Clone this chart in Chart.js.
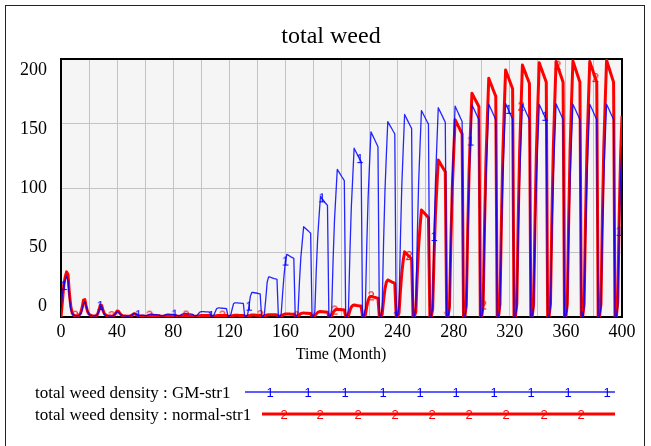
<!DOCTYPE html>
<html>
<head>
<meta charset="utf-8">
<script src="https://cdn.jsdelivr.net/npm/chart.js@4/dist/chart.umd.min.js"></script>
<style>
  html, body { margin: 0; padding: 0; background: #fff; }
  #wrap { position: relative; width: 651px; height: 446px; overflow: hidden; }
  #c { position: absolute; left: 0; top: 0; }
  .frame { position: absolute; left: 5px; top: 5px; width: 640px; height: 460px;
           border: 1px solid #222; box-sizing: border-box; pointer-events: none; }
  .txt { position: absolute; font-family: "Liberation Serif", "Times New Roman", serif; color: #000; white-space: nowrap; }
  #title { left: 0; width: 662px; text-align: center; top: 20px; line-height: 30px; font-size: 24px; }
  #xtitle { left: 0; width: 682px; text-align: center; top: 344px; line-height: 20px; font-size: 16px; }
  #legend { position: absolute; left: 0; top: 0; }
</style>
</head>
<body>
<div id="wrap">
  <canvas id="c" width="651" height="446"></canvas>
  <div class="frame"></div>
  <div id="title" class="txt">total weed</div>
  <div id="xtitle" class="txt">Time (Month)</div>
  <svg id="legend" width="651" height="446"></svg>
</div>
<script>
// ---------------- data ----------------
const chartTitle = "total weed";
const xAxisTitle = "Time (Month)";
const seriesNames = ["total weed density : GM-str1", "total weed density : normal-str1"];
const xTickValues = [0, 40, 80, 120, 160, 200, 240, 280, 320, 360, 400];
const yTickValues = [0, 50, 100, 150, 200];

// time axis: months 0..400
const months = Array.from({length: 401}, (_, i) => i);

// series 1 : GM-str1 (blue), one row per year (12 months)
const gmStr1 = [
  6, 18, 24, 29, 31.5, 28, 15, 6, 2.5, 1.5, 1, 0.8,               // 0-11
  0.8, 1.2, 2.5, 5, 10, 12, 8.5, 4.5, 2, 1.3, 1, 0.8,             // 12-23
  0.7, 1, 2, 4.5, 8.5, 8.3, 4.5, 2, 1.3, 1, 0.8, 0.7,             // 24-35
  0.6, 0.8, 1.5, 2.8, 4.2, 4, 2.6, 1.5, 1, 0.8, 0.7, 0.6,         // 36-47
  0.6, 0.8, 1.2, 2, 2.8, 2.6, 1.8, 1.4, 1.2, 1.2, 1.5, 1.4,       // 48-59
  0.9, 1, 1.5, 2, 2.2, 2.2, 2, 1.8, 1.8, 1.6, 1.5, 1,             // 60-71
  0.9, 1, 1.5, 2, 2.2, 2.2, 2.1, 2, 2, 1.8, 1.6, 1,               // 72-83
  0.9, 1.2, 2, 2.5, 2.8, 2.8, 2.6, 2.5, 2.4, 2.2, 2, 1,           // 84-95
  0.8, 1.2, 2.5, 3.8, 4.2, 4.2, 4.1, 4, 4, 3.9, 3.8, 0.8,         // 96-107
  0.7, 1.5, 4, 6.5, 7, 7, 6.9, 6.8, 6.7, 6.6, 6.5, 0.7,           // 108-119
  0.6, 1.5, 6, 10.2, 11, 11, 10.9, 10.8, 10.7, 10.6, 10.5, 0.6,   // 120-131
  0.5, 1.5, 8, 16, 19, 19, 18.8, 18.6, 18.4, 18.2, 18, 0.5,       // 132-143
  0.5, 2, 14, 27, 31, 31, 30.6, 30.2, 29.8, 29.5, 29.2, 0.5,      // 144-155
  0.5, 2.5, 18, 32, 43, 48.6, 48, 47.3, 46.6, 46, 45.5, 0.5,      // 156-167
  0.5, 3.5, 27, 46, 58, 70, 69, 68, 67, 66, 65, 0.5,              // 168-179
  0.5, 4.5, 36, 61, 78, 93.5, 92, 90.5, 89, 87.8, 86.5, 0.5,      // 180-191
  0.5, 5.5, 44, 75, 95, 114.5, 112.7, 110.9, 109.1, 107.4, 105.7, 0.5, // 192-203
  0.5, 6.5, 50, 85, 108, 130.8, 128.7, 126.6, 124.5, 122.4, 120.4, 0.5, // 204-215
  0.5, 7, 55, 93, 119, 143.5, 141.2, 138.9, 136.6, 134.3, 132, 0.5,     // 216-227
  0.5, 7.5, 58, 98, 126, 151.4, 149.5, 147.6, 145.7, 143.8, 142, 0.5,   // 228-239
  0.5, 8, 60, 102, 130, 157, 154.8, 152.6, 150.4, 148.2, 146, 0.5,      // 240-251
  0.5, 8, 61, 104, 133, 160, 157.9, 155.8, 153.7, 151.6, 149.5, 0.5,    // 252-263
  0.5, 8, 62, 105, 134, 162.2, 160, 157.7, 155.5, 153.2, 151, 0.5,      // 264-275
  0.5, 8, 62, 106, 135, 163.5, 161.1, 158.7, 156.3, 153.9, 151.5, 0.5,  // 276-287
  0.5, 8, 63, 107, 136, 164.5, 162.2, 159.9, 157.6, 155.3, 153, 0.5,    // 288-299
  0.5, 8, 63, 107, 137, 165, 162.6, 160.2, 157.8, 155.4, 153, 0.5,      // 300-311
  0.5, 8, 63, 108, 137, 165.5, 163, 160.6, 158.2, 155.8, 153.4, 0.5,    // 312-323
  0.5, 8, 63, 107, 137, 165, 162.6, 160.2, 157.8, 155.4, 153, 0.5,      // 324-335
  0.5, 8, 63, 107, 136, 164.8, 162.4, 160, 157.6, 155.2, 152.8, 0.5,    // 336-347
  0.5, 8, 64, 108, 137, 165.2, 162.8, 160.4, 158, 155.6, 153.2, 0.5,    // 348-359
  0.5, 8, 63, 107, 137, 165, 162.6, 160.2, 157.8, 155.4, 153, 0.5,      // 360-371
  0.5, 8, 63, 107, 137, 165, 162.6, 160.2, 157.8, 155.4, 153, 0.5,      // 372-383
  0.5, 8, 63, 107, 137, 165, 162.6, 160.2, 157.8, 155.4, 153, 0.5,      // 384-395
  0.5, 9, 66, 110, 132                                                  // 396-400
];

// series 2 : normal-str1 (red)
const normalStr1 = [
  0, 12, 25, 31, 35, 33, 18, 8, 3, 1.5, 1, 0.8,                   // 0-11
  0.8, 1.5, 3, 7, 13, 13.5, 8, 4, 2.2, 1.4, 1, 0.8,               // 12-23
  0.7, 1, 2, 5, 9.2, 9, 5, 2.4, 1.4, 1, 0.8, 0.7,                 // 24-35
  0.6, 0.8, 1.5, 3, 4.6, 4.4, 2.8, 1.5, 1, 0.8, 0.7, 0.6,         // 36-47
  0.6, 0.7, 1, 1.8, 2.5, 2.4, 1.6, 1, 0.8, 0.7, 0.6, 0.6,         // 48-59
  0.5, 0.6, 0.8, 1, 1.1, 1.1, 1.1, 1, 1, 1, 1, 0.5,               // 60-71
  0.5, 0.6, 0.8, 1, 1.1, 1.1, 1.1, 1, 1, 1, 1, 0.5,               // 72-83
  0.5, 0.6, 0.8, 1, 1.1, 1.1, 1.1, 1, 1, 1, 1, 0.5,               // 84-95
  0.5, 0.6, 0.8, 1, 1.2, 1.2, 1.2, 1.1, 1.1, 1.1, 1.1, 0.5,       // 96-107
  0.5, 0.6, 0.8, 1, 1.2, 1.2, 1.2, 1.1, 1.1, 1.1, 1.1, 0.5,       // 108-119
  0.5, 0.6, 0.9, 1.2, 1.3, 1.3, 1.3, 1.2, 1.2, 1.2, 1.2, 0.5,     // 120-131
  0.5, 0.6, 1, 1.3, 1.5, 1.5, 1.5, 1.4, 1.4, 1.4, 1.4, 0.5,       // 132-143
  0.5, 0.7, 1.2, 1.6, 1.8, 1.8, 1.8, 1.7, 1.7, 1.7, 1.6, 0.5,     // 144-155
  0.5, 0.8, 1.5, 2, 2.3, 2.4, 2.3, 2.3, 2.2, 2.2, 2.1, 0.5,       // 156-167
  0.5, 0.8, 1.8, 2.6, 3, 3.1, 3, 3, 2.9, 2.8, 2.7, 0.5,           // 168-179
  0.5, 1, 2.5, 3.5, 4, 4.2, 4.1, 4, 3.9, 3.8, 3.7, 0.5,           // 180-191
  0.5, 1, 3.5, 5, 5.8, 6, 5.9, 5.8, 5.7, 5.6, 5.5, 0.5,           // 192-203
  0.5, 1.2, 5, 7.8, 9, 9.3, 9.1, 8.9, 8.8, 8.6, 8.5, 0.5,         // 204-215
  0.5, 1.5, 8, 13, 15.5, 16, 15.7, 15.4, 15.1, 14.8, 14.5, 0.5,   // 216-227
  0.5, 2, 13, 22, 27, 28.7, 28.2, 27.7, 27.1, 26.6, 26, 0.5,      // 228-239
  0.5, 3, 20, 34, 44, 50.5, 49.4, 48.3, 47.2, 46.1, 45, 0.5,      // 240-251
  0.5, 4, 32, 55, 70, 83, 81.8, 80.6, 79.4, 78.2, 77, 0.5,        // 252-263
  0.5, 6, 47, 80, 101, 121.7, 119.9, 118, 116.2, 114.4, 112.6, 0.5,   // 264-275
  0.5, 8, 59, 100, 127, 153, 150.8, 148.6, 146.4, 144.2, 142, 0.5,    // 276-287
  0.5, 9, 67, 114, 145, 173.4, 171.3, 169.3, 167.2, 165.1, 163, 0.5,  // 288-299
  0.5, 9, 71, 121, 154, 185, 182.2, 179.4, 176.6, 173.8, 171, 0.5,    // 300-311
  0.5, 10, 73, 125, 160, 191.5, 188.6, 185.7, 182.8, 179.9, 177, 0.5, // 312-323
  0.5, 10, 75, 128, 163, 195.3, 192.4, 189.6, 186.7, 183.9, 181, 0.5, // 324-335
  0.5, 10, 76, 130, 165, 197, 194, 191, 188, 185, 182, 0.5,           // 336-347
  0.5, 10, 76, 130, 165, 198, 194.8, 191.6, 188.4, 185.2, 182, 0.5,   // 348-359
  0.5, 10, 76, 130, 166, 198.5, 195.2, 191.9, 188.6, 185.3, 182, 0.5, // 360-371
  0.5, 10, 76, 130, 165, 198, 194.8, 191.6, 188.4, 185.2, 182, 0.5,   // 372-383
  0.5, 10, 77, 131, 166, 199, 195.6, 192.2, 188.8, 185.4, 182, 0.5,   // 384-395
  0.5, 12, 78, 125, 156                                               // 396-400
];

// months where the series number labels ("1", "2") sit on the lines
const gmMarkMonths = [2, 28, 55, 81, 107, 134, 160, 186, 213, 239, 266, 292, 319, 345, 372, 398];
const normalMarkMonths = [10, 36, 63, 89, 115, 142, 168, 195, 221, 248, 275, 301, 328, 354, 381];

// ---------------- drawing ----------------
const BLUE = 'rgba(0,0,255,0.85)';
const RED = '#ff0000';

function glyph(txt, color) {
  const c = document.createElement('canvas');
  c.width = 10; c.height = 14;
  const g = c.getContext('2d');
  g.font = '13px "Liberation Sans", Arial, sans-serif';
  g.fillStyle = color;
  g.textAlign = 'center';
  g.textBaseline = 'middle';
  g.fillText(txt, 5, 7.5);
  return c;
}
const mark1 = glyph('1', '#0000ff');
const mark2 = glyph('2', RED);

const toPts = arr => months.map((m, i) => ({x: m, y: arr[i]}));

const bgPlugin = {
  id: 'plotBg',
  beforeDraw(chart) {
    const a = chart.chartArea, ctx = chart.ctx;
    ctx.save();
    ctx.fillStyle = '#f5f5f5';
    ctx.fillRect(a.left, a.top, a.right - a.left, a.bottom - a.top);
    ctx.restore();
  },
  beforeDatasetsDraw(chart) {
    const a = chart.chartArea, ctx = chart.ctx;
    ctx.save();
    ctx.strokeStyle = '#000';
    ctx.lineWidth = 2;
    ctx.strokeRect(a.left, a.top, a.right - a.left, a.bottom - a.top);
    ctx.restore();
  }
};

const tickFont = {family: '"Liberation Serif", "Times New Roman", serif', size: 18};

new Chart(document.getElementById('c'), {
  type: 'line',
  data: {
    datasets: [
      {
        label: seriesNames[0],
        data: toPts(gmStr1),
        borderColor: BLUE,
        borderWidth: 1.3,
        borderJoinStyle: 'round',
        pointStyle: mark1,
        pointRadius: ctx => gmMarkMonths.includes(ctx.raw && ctx.raw.x) ? 5 : 0,
        pointHoverRadius: 0,
        tension: 0,
        fill: false
      },
      {
        label: seriesNames[1],
        data: toPts(normalStr1),
        borderColor: RED,
        borderWidth: 3,
        borderJoinStyle: 'round',
        pointStyle: mark2,
        pointRadius: ctx => normalMarkMonths.includes(ctx.raw && ctx.raw.x) ? 5 : 0,
        pointHoverRadius: 0,
        tension: 0,
        fill: false
      }
    ]
  },
  options: {
    responsive: false,
    animation: false,
    events: [],
    layout: { padding: { left: 0, top: 59, right: 29, bottom: 89 } },
    plugins: { legend: { display: false }, tooltip: { enabled: false }, title: { display: false } },
    scales: {
      x: {
        type: 'linear', min: 0, max: 400,
        ticks: {
          stepSize: 20, autoSkip: false, maxRotation: 0, minRotation: 0, padding: 4,
          color: '#000', font: tickFont,
          callback: v => xTickValues.includes(v) ? String(v) : ''
        },
        grid: { color: '#c3c3c3', lineWidth: 1, drawTicks: false },
        border: { display: false },
        afterFit: s => { s.height = 40; }
      },
      y: {
        position: 'left', min: 0, max: 200,
        ticks: { display: false, stepSize: 50 },
        grid: { color: '#c3c3c3', lineWidth: 1, drawTicks: false },
        border: { display: false },
        afterFit: s => { s.width = 0; }
      },
      yLab: {
        position: 'left', min: -9.32, max: 209.32,
        grid: { display: false, drawTicks: false },
        border: { display: false },
        ticks: { padding: 14, color: '#000', font: tickFont },
        afterBuildTicks: s => { s.ticks = yTickValues.map(v => ({value: v})); },
        afterFit: s => { s.width = 61; }
      }
    }
  },
  plugins: [bgPlugin]
});

// ---------------- legend (Vensim style, below the plot) ----------------
(function () {
  const NS = 'http://www.w3.org/2000/svg';
  const svg = document.getElementById('legend');
  function el(name, attrs, text) {
    const e = document.createElementNS(NS, name);
    for (const k in attrs) e.setAttribute(k, attrs[k]);
    if (text !== undefined) e.textContent = text;
    svg.appendChild(e);
    return e;
  }
  const rows = [
    { name: seriesNames[0], y: 392, x1: 245, color: BLUE, w: 1.3, mark: '1', mcolor: '#0000ff',
      marks: [270, 308, 345, 383, 420, 456, 494, 531, 568, 607] },
    { name: seriesNames[1], y: 414, x1: 262, color: RED, w: 3, mark: '2', mcolor: RED,
      marks: [284, 320, 358, 395, 432, 469, 506, 544, 581] }
  ];
  rows.forEach(r => {
    el('text', { x: 35, y: r.y + 5.5, 'font-family': 'Liberation Serif, Times New Roman, serif',
                 'font-size': 17, fill: '#000' }, r.name);
    el('line', { x1: r.x1, y1: r.y, x2: 615, y2: r.y, stroke: r.color, 'stroke-width': r.w });
    r.marks.forEach(mx => {
      el('text', { x: mx, y: r.y + 4.5, 'text-anchor': 'middle',
                   'font-family': 'Liberation Sans, Arial, sans-serif', 'font-size': 13, fill: r.mcolor }, r.mark);
    });
  });
})();
</script>
</body>
</html>
